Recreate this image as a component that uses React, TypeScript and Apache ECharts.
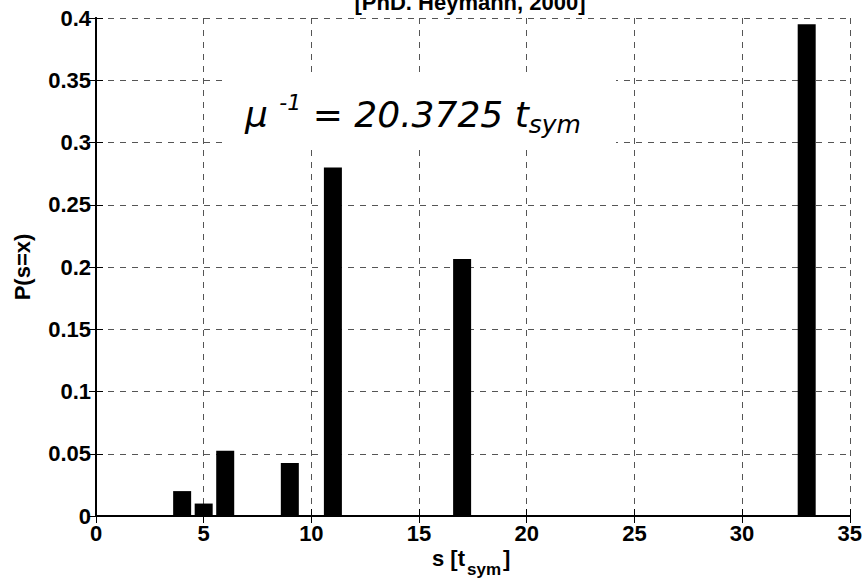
import React, { useEffect, useRef } from "react";
import * as echarts from "echarts";

const sValues = [4, 5, 6, 9, 11, 17, 33];
const probabilities = [0.02, 0.01, 0.0525, 0.0425, 0.28, 0.2065, 0.395];
const xTicks = { min: 0, max: 35, interval: 5 };
const yTicks = { min: 0, max: 0.4, interval: 0.05 };
const titleText = "[PhD. Heymann, 2000]";
const yLabel = "P(s=x)";
const FONT = "'Liberation Sans', Arial, Helvetica, sans-serif";
const AFONT = "'DejaVu Sans', Verdana, sans-serif";

export default function App() {
  const ref = useRef<HTMLDivElement>(null);
  useEffect(() => {
    if (!ref.current) return;
    const chart = echarts.init(ref.current, null, { renderer: "svg" });
    const axisLine = { show: true, lineStyle: { color: "#000", width: 2 } };
    const tick = { show: true, inside: true, length: 7, lineStyle: { color: "#000", width: 1 } };
    const label = { color: "#000", fontSize: 22, fontWeight: "bold" as const, fontFamily: FONT };
    const grid = { show: true, lineStyle: { color: "#555", width: 1, type: [6, 6] as number[] } };
    const data = sValues.map((s, i) => [s, probabilities[i]]);
    const bold = (text: string, size: number, align = "left") => ({
      text, fontSize: size, fontWeight: "bold", fontFamily: FONT,
      fill: "#000", align, verticalAlign: "middle",
    });
    const ann = { fontStyle: "italic", fontFamily: AFONT, fontWeight: "normal", color: "#000" };
    chart.setOption({
      animation: false,
      backgroundColor: "#fff",
      grid: { left: 96, right: 14, top: 18, bottom: 64, containLabel: false },
      xAxis: [
        {
          type: "value", position: "bottom", ...xTicks,
          axisLine, axisTick: tick, splitLine: grid,
          axisLabel: { ...label, margin: 6 },
        },
        {
          type: "value", position: "top", ...xTicks,
          axisLine, axisTick: tick, splitLine: { show: false }, axisLabel: { show: false },
        },
      ],
      yAxis: [
        {
          type: "value", position: "left", ...yTicks,
          axisLine, axisTick: tick, splitLine: grid,
          axisLabel: { ...label, margin: 5 },
        },
        {
          type: "value", position: "right", ...yTicks,
          axisLine, axisTick: tick, splitLine: { show: false }, axisLabel: { show: false },
        },
      ],
      series: [
        {
          type: "bar", xAxisIndex: 0, yAxisIndex: 0, data,
          barWidth: 18, itemStyle: { color: "#000" },
        },
      ],
      graphic: [
        { type: "text", x: 470, y: 2, z: 100, style: bold(titleText, 22, "center") },
        { type: "text", x: 22, y: 267, rotation: Math.PI / 2, z: 100, style: bold(yLabel, 22, "center") },
        { type: "text", x: 432, y: 558, z: 100, style: bold("s [t", 22) },
        { type: "text", x: 467, y: 569, z: 100, style: bold("sym", 17) },
        { type: "text", x: 503, y: 558, z: 100, style: bold("]", 22) },
        {
          type: "rect", z: 90, shape: { x: 224, y: 78, width: 392, height: 66 },
          style: { fill: "#fff" },
        },
        {
          type: "text", x: 245, y: 91, z: 100,
          style: {
            text: "{m|μ }{sup|-1}{n| = 20.3725 t}{sub|sym}",
            align: "left", verticalAlign: "top",
            rich: {
              m: { ...ann, fontSize: 36, lineHeight: 46, verticalAlign: "middle" },
              n: { ...ann, fontSize: 36, lineHeight: 46, verticalAlign: "middle" },
              sup: { ...ann, fontSize: 22, lineHeight: 30, verticalAlign: "top" },
              sub: { ...ann, fontSize: 25, lineHeight: 20, verticalAlign: "bottom" },
            },
          },
        },
      ],
    });
    return () => chart.dispose();
  }, []);
  return <div ref={ref} style={{ width: 865, height: 580, position: "absolute", left: 0, top: 0 }} />;
}
